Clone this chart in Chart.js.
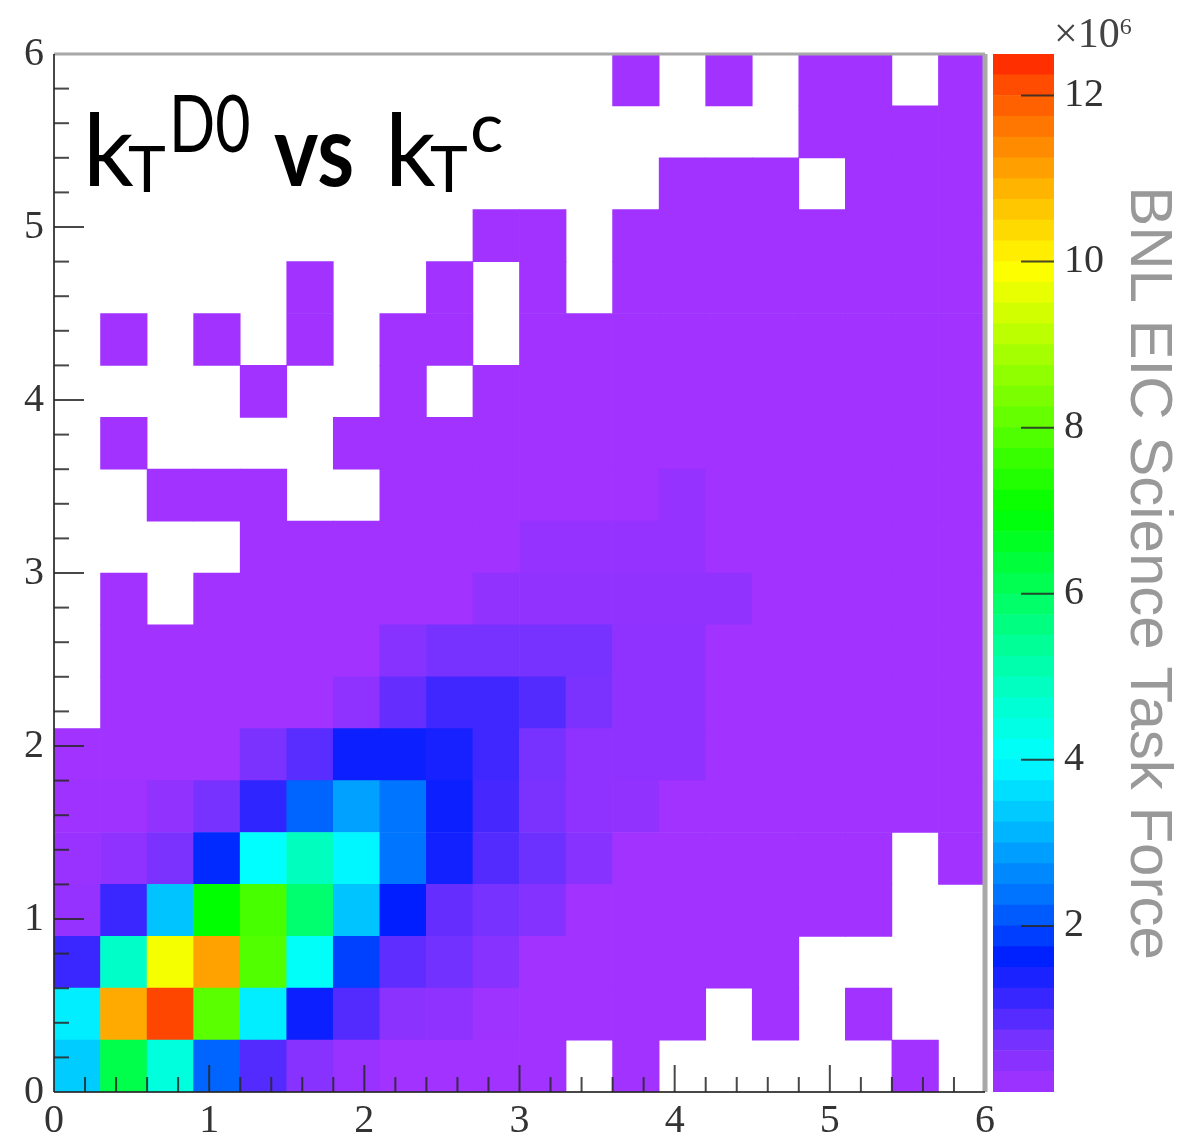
<!DOCTYPE html>
<html>
<head>
<meta charset="utf-8">
<script src="https://cdn.jsdelivr.net/npm/chart.js@4"></script>
<style>
body { margin: 0; background: #fff; width: 1200px; height: 1137px; overflow: hidden; position: relative; }
canvas { position: absolute; top: 0; filter: blur(0.7px); }
#chart_canvas { left: 0; }
#bar_canvas { left: 985px; }
.t { position: absolute; font-family: Lato, sans-serif; line-height: 1; color: #000; white-space: nowrap; transform-origin: left center; }
.big { font-size: 100px; top: 97px; }
.sub { font-size: 64px; top: 136px; }
.sup { font-size: 79px; top: 82px; transform: scaleX(0.77); }
#factor { position: absolute; left: 1054px; top: 9px; font: 42px "Liberation Serif", serif; color: #444; white-space: nowrap; }
#factor sup { font-size: 24px; vertical-align: 13px; line-height: 0; }
</style>
</head>
<body>
<canvas id="chart_canvas" width="1200" height="1137"></canvas>
<canvas id="bar_canvas" width="215" height="1137"></canvas>
<span class="t big" style="left:83px">k</span><span class="t sub" style="left:128px">T</span><span class="t sup" style="left:169px">D0</span>
<span class="t big" style="left:274px;font-weight:700;transform:scaleX(0.84)">vs</span>
<span class="t big" style="left:385px">k</span><span class="t sub" style="left:430px">T</span><span class="t sup" style="left:470px;font-size:70px;top:90px;transform:none">c</span>
<div id="factor">×10<sup>6</sup></div>
<script>
const _ = null;
const xCategories = ['0.15','0.45','0.75','1.05','1.35','1.65','1.95','2.25','2.55','2.85','3.15','3.45','3.75','4.05','4.35','4.65','4.95','5.25','5.55','5.85'];
const axisTicks = [0, 1, 2, 3, 4, 5, 6];

// bin contents in units of 1e6, bottom row first
const row00 = [3.4, 6.2, 4.5, 2.2, 0.9, 0.4, 0.15, 0.05, 0.05, 0.05, 0.05, _, 0.05, _, _, _, _, _, 0.05, _];
const row01 = [3.8, 11, 12.2, 8, 3.8, 1.5, 0.9, 0.35, 0.3, 0.1, 0.05, 0.05, 0.05, 0.05, _, 0.05, _, 0.05, _, _];
const row02 = [1.1, 4.8, 9.8, 11.1, 7.9, 4.1, 1.9, 0.8, 0.65, 0.4, 0.05, 0.05, 0.05, 0.05, 0.05, 0.05, _, _, _, _];
const row03 = [0.2, 1.1, 3.3, 7, 7.8, 5.8, 3.3, 1.6, 0.75, 0.6, 0.45, 0.05, 0.05, 0.05, 0.05, 0.05, 0.05, 0.05, _, _];
const row04 = [0.15, 0.3, 0.55, 1.7, 4, 4.9, 3.9, 2.4, 1.45, 0.9, 0.7, 0.4, 0.05, 0.05, 0.05, 0.05, 0.05, 0.05, _, 0.05];
const row05 = [0.08, 0.08, 0.25, 0.6, 1.2, 2.2, 2.9, 2.4, 1.5, 1, 0.55, 0.3, 0.25, 0.05, 0.05, 0.05, 0.05, 0.05, 0.05, 0.05];
const row06 = [0.06, 0.06, 0.06, 0.06, 0.55, 0.85, 1.5, 1.5, 1.4, 1.05, 0.6, 0.3, 0.3, 0.28, 0.05, 0.05, 0.05, 0.05, 0.05, 0.05];
const row07 = [_, 0.05, 0.05, 0.05, 0.05, 0.05, 0.3, 0.75, 1.05, 1.05, 0.9, 0.55, 0.3, 0.3, 0.05, 0.05, 0.05, 0.05, 0.05, 0.05];
const row08 = [_, 0.05, 0.05, 0.05, 0.05, 0.05, 0.05, 0.4, 0.6, 0.6, 0.6, 0.6, 0.3, 0.3, 0.05, 0.05, 0.05, 0.05, 0.05, 0.05];
const row09 = [_, 0.05, _, 0.05, 0.05, 0.05, 0.05, 0.05, 0.05, 0.25, 0.25, 0.27, 0.27, 0.27, 0.25, 0.05, 0.05, 0.05, 0.05, 0.05];
const row10 = [_, _, _, _, 0.05, 0.05, 0.05, 0.05, 0.05, 0.05, 0.2, 0.2, 0.2, 0.22, 0.05, 0.05, 0.05, 0.05, 0.05, 0.05];
const row11 = [_, _, 0.05, 0.05, 0.05, _, _, 0.05, 0.05, 0.05, 0.05, 0.05, 0.05, 0.2, 0.05, 0.05, 0.05, 0.05, 0.05, 0.05];
const row12 = [_, 0.05, _, _, _, _, 0.05, 0.05, 0.05, 0.05, 0.05, 0.05, 0.05, 0.05, 0.05, 0.05, 0.05, 0.05, 0.05, 0.05];
const row13 = [_, _, _, _, 0.05, _, _, 0.05, _, 0.05, 0.05, 0.05, 0.05, 0.05, 0.05, 0.05, 0.05, 0.05, 0.05, 0.05];
const row14 = [_, 0.05, _, 0.05, _, 0.05, _, 0.05, 0.05, _, 0.05, 0.05, 0.05, 0.05, 0.05, 0.05, 0.05, 0.05, 0.05, 0.05];
const row15 = [_, _, _, _, _, 0.05, _, _, 0.05, _, 0.05, _, 0.05, 0.05, 0.05, 0.05, 0.05, 0.05, 0.05, 0.05];
const row16 = [_, _, _, _, _, _, _, _, _, 0.05, 0.05, _, 0.05, 0.05, 0.05, 0.05, 0.05, 0.05, 0.05, 0.05];
const row17 = [_, _, _, _, _, _, _, _, _, _, _, _, _, 0.05, 0.05, 0.05, _, 0.05, 0.05, 0.05];
const row18 = [_, _, _, _, _, _, _, _, _, _, _, _, _, _, _, _, 0.05, 0.05, 0.05, 0.05];
const row19 = [_, _, _, _, _, _, _, _, _, _, _, _, 0.05, _, 0.05, _, 0.05, 0.05, _, 0.05];
const rows = [row00, row01, row02, row03, row04, row05, row06, row07, row08, row09,
    row10, row11, row12, row13, row14, row15, row16, row17, row18, row19];

const binSize = 0.3;
const zMax = 12.5;
const barTicks = [2, 4, 6, 8, 10, 12];
const numBands = 50;

// colour stops: [z, r, g, b]
const stops = [
    [0, 165, 50, 255], [0.6, 120, 50, 255], [1.0, 70, 40, 255], [1.6, 0, 30, 255], [2.2, 0, 100, 255],
    [3, 0, 170, 255], [4, 0, 255, 255], [4.8, 0, 255, 200], [5.6, 0, 255, 130], [7, 0, 255, 0],
    [8, 90, 255, 0], [9.9, 255, 255, 0], [11, 255, 170, 0], [12.2, 255, 70, 0], [12.5, 255, 30, 0]
];

function colorFor(z) {
    if (z === null) return 'rgba(0,0,0,0)';
    for (let i = 1; i < stops.length; i++) {
        if (z <= stops[i][0]) {
            const a = stops[i - 1], b = stops[i];
            const f = (z - a[0]) / (b[0] - a[0]);
            return 'rgb(' + [1, 2, 3].map(k => Math.round(a[k] + (b[k] - a[k]) * f)).join(',') + ')';
        }
    }
    return 'rgb(255,30,0)';
}

const tickColor = 'rgba(40,40,40,0.85)';
const labelFont = { family: '"Liberation Serif"', size: 40 };

function line(ctx, x1, y1, x2, y2) {
    ctx.beginPath();
    ctx.moveTo(x1, y1);
    ctx.lineTo(x2, y2);
    ctx.stroke();
}

// root style ticks, pointing into the plot
const insideTicks = {
    id: 'insideTicks',
    afterDatasetsDraw(chart) {
        const { ctx, chartArea: a, scales } = chart;
        ctx.save();
        ctx.strokeStyle = '#a8a8a8';
        ctx.lineWidth = 3;
        line(ctx, a.left, a.top, a.right, a.top);
        ctx.lineWidth = 5;
        line(ctx, a.right, a.top, a.right, a.bottom);
        ctx.strokeStyle = tickColor;
        ctx.lineWidth = 2;
        line(ctx, a.left, a.top, a.left, a.bottom);
        line(ctx, a.left, a.bottom, a.right, a.bottom);
        for (let i = 1; i < 30; i++) {
            const v = i * 0.2;
            const major = i % 5 === 0;
            const px = scales.xAxis.getPixelForValue(v);
            const py = scales.y.getPixelForValue(v);
            line(ctx, px, a.bottom, px, a.bottom - (major ? 27 : 15));
            line(ctx, a.left, py, a.left + (major ? 30 : 15), py);
        }
        ctx.restore();
    }
};

const barTickPlugin = {
    id: 'barTicks',
    afterDatasetsDraw(chart) {
        const { ctx, chartArea: a, scales } = chart;
        ctx.save();
        ctx.strokeStyle = tickColor;
        ctx.lineWidth = 2;
        for (const v of barTicks) {
            const py = scales.y.getPixelForValue(v);
            line(ctx, a.right, py, a.right - 33, py);
        }
        ctx.restore();
    }
};

var myChart = new Chart(document.getElementById('chart_canvas').getContext('2d'), {
    type: 'bar',
    plugins: [insideTicks],
    data: {
        labels: xCategories,
        datasets: rows.map((vals, r) => ({
            data: vals.map(z => z === null ? null : [r * binSize, (r + 1) * binSize]),
            backgroundColor: vals.map(colorFor),
            barPercentage: 1,
            categoryPercentage: 1,
            grouped: false
        }))
    },
    options: {
        responsive: false,
        animation: false,
        devicePixelRatio: 1,
        layout: { padding: { top: 54, right: 215, left: 0, bottom: 0 } },
        plugins: { legend: { display: false }, tooltip: { enabled: false } },
        scales: {
            x: { display: false, stacked: false },
            xAxis: {
                type: 'linear', position: 'bottom', min: 0, max: 6, offset: false,
                grid: { display: false, drawTicks: false },
                border: { display: false },
                afterBuildTicks(s) { s.ticks = axisTicks.map(v => ({ value: v })); },
                afterFit(s) { s.height = 45; },
                ticks: { color: '#333', font: labelFont, padding: 5, maxRotation: 0, autoSkip: false }
            },
            y: {
                min: 0, max: 6,
                grid: { display: false, drawTicks: false },
                border: { display: false },
                afterBuildTicks(s) { s.ticks = axisTicks.map(v => ({ value: v })); },
                afterFit(s) { s.width = 54; },
                ticks: { color: '#333', font: labelFont, padding: 10, autoSkip: false }
            }
        }
    }
});

// colour bar, one floating bar per palette band
const bandLabels = ['z'];
const bands = [];
for (let i = 0; i < numBands; i++) bands.push(i);

var barChart = new Chart(document.getElementById('bar_canvas').getContext('2d'), {
    type: 'bar',
    plugins: [barTickPlugin],
    data: {
        labels: bandLabels,
        datasets: bands.map(i => ({
            data: [[i * zMax / numBands, (i + 1) * zMax / numBands]],
            backgroundColor: colorFor((i + 0.5) * zMax / numBands),
            barPercentage: 1,
            categoryPercentage: 1,
            grouped: false
        }))
    },
    options: {
        responsive: false,
        animation: false,
        devicePixelRatio: 1,
        layout: { padding: { top: 54, left: 8, right: 0, bottom: 45 } },
        plugins: { legend: { display: false }, tooltip: { enabled: false } },
        scales: {
            x: { display: false },
            y: {
                position: 'right', min: 0, max: zMax,
                grid: { display: false, drawTicks: false },
                border: { display: false },
                afterBuildTicks(s) { s.ticks = barTicks.map(v => ({ value: v })); },
                afterFit(s) { s.width = 146; },
                ticks: { color: '#333', font: labelFont, padding: 10, autoSkip: false },
                title: {
                    display: true,
                    text: 'BNL EIC Science Task Force',
                    color: '#999',
                    font: { family: '"Liberation Sans"', size: 60 },
                    padding: { top: 16, bottom: 0 }
                }
            }
        }
    }
});
</script>
</body>
</html>
